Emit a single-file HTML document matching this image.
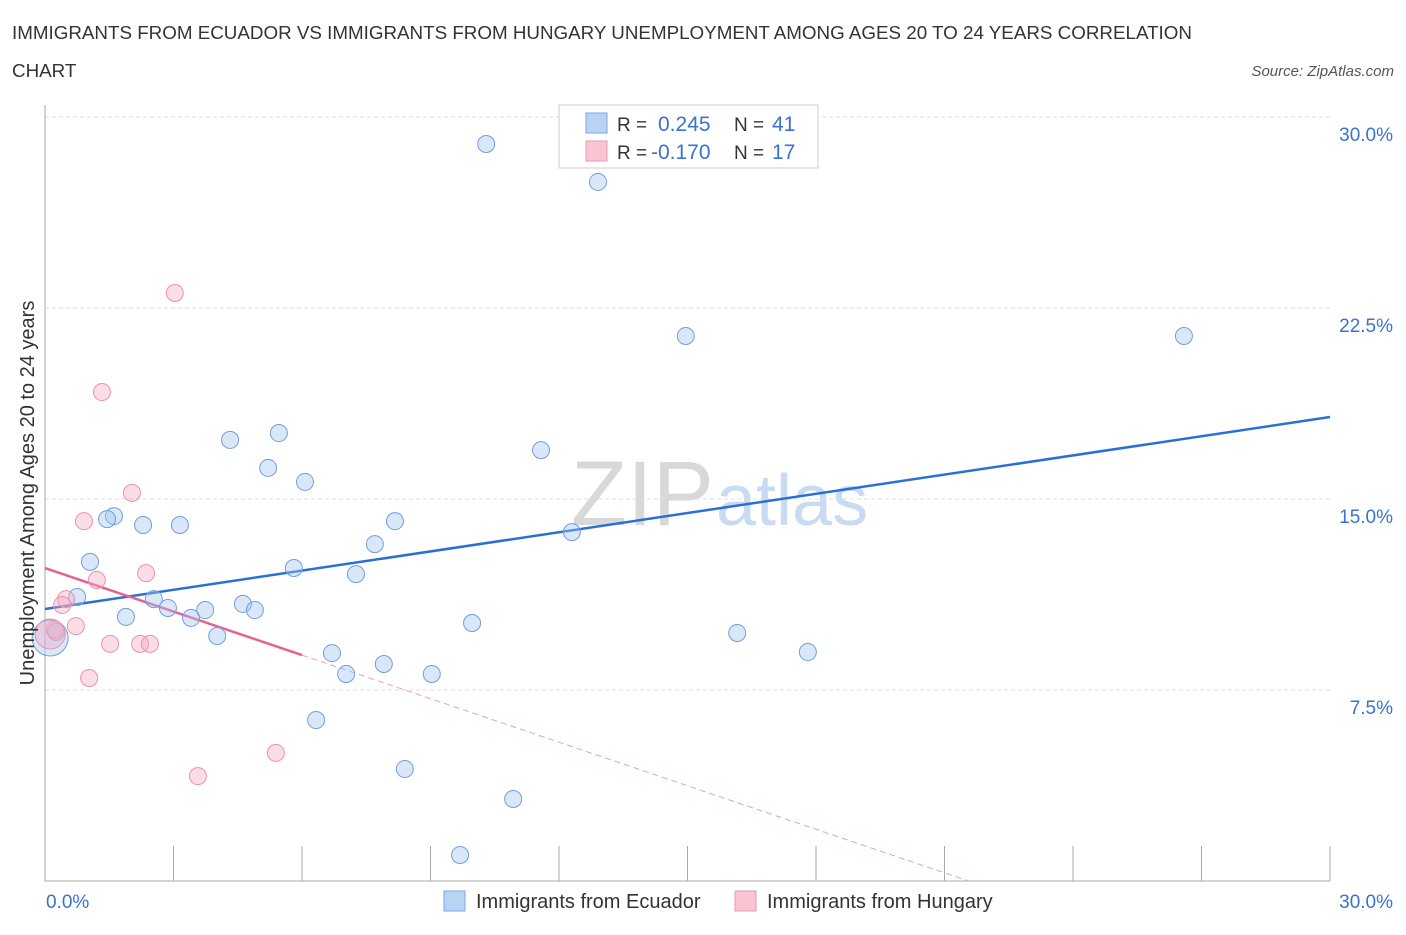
<!DOCTYPE html>
<html><head><meta charset="utf-8"><style>
body{margin:0;background:#fff;font-family:"Liberation Sans",sans-serif;}
svg text{font-family:"Liberation Sans",sans-serif;}
</style></head><body>
<svg id="c" width="1406" height="930" xmlns="http://www.w3.org/2000/svg">
<text x="12" y="39" font-size="18.8" fill="#333">IMMIGRANTS FROM ECUADOR VS IMMIGRANTS FROM HUNGARY UNEMPLOYMENT AMONG AGES 20 TO 24 YEARS CORRELATION</text>
<text x="12" y="77" font-size="18.8" fill="#333">CHART</text>
<text x="1394" y="76" font-size="15" fill="#555" font-style="italic" text-anchor="end">Source: ZipAtlas.com</text>
<text x="714" y="525" font-size="92" fill="#d8d8d8" text-anchor="end" font-family="Liberation Serif">ZIP</text>
<text x="716" y="525" font-size="72" fill="#c9dbf2">atlas</text>
<g id="grid"></g><g id="axes"></g><g id="lines"></g><g id="pts"></g>
<text transform="translate(34,493) rotate(-90)" font-size="20" fill="#333" text-anchor="middle">Unemployment Among Ages 20 to 24 years</text>
<g>
<rect x="559" y="105" width="259" height="63" fill="#fff" stroke="#ccc"/>
<rect x="586" y="113" width="21" height="20" fill="#b9d3f5" stroke="#7aa8e6"/>
<rect x="586" y="141" width="21" height="20" fill="#f9c5d3" stroke="#eb97b2"/>
<text x="617" y="131" font-size="19" fill="#333">R = </text><text x="658" y="131" font-size="21" fill="#3a72d0">0.245</text>
<text x="734" y="131" font-size="19" fill="#333">N = </text><text x="772" y="131" font-size="21" fill="#3a72d0">41</text>
<text x="617" y="159" font-size="19" fill="#333">R = </text><text x="651" y="159" font-size="21" fill="#3a72d0">-0.170</text>
<text x="734" y="159" font-size="19" fill="#333">N = </text><text x="772" y="159" font-size="21" fill="#3a72d0">17</text>
</g>
<g>
<rect x="444" y="891" width="21" height="20" fill="#b9d3f5" stroke="#7aa8e6"/>
<text x="476" y="908" font-size="20" fill="#333">Immigrants from Ecuador</text>
<rect x="735" y="891" width="21" height="20" fill="#f9c5d3" stroke="#eb97b2"/>
<text x="767" y="908" font-size="20" fill="#333">Immigrants from Hungary</text>
</g>
</svg>
<script>
const yTicks=[7.5,15.0,22.5,30.0];
const yTickLabels=["7.5%","15.0%","22.5%","30.0%"];
const blueX=[10.30,12.91,14.96,26.59,5.46,4.32,11.58,5.21,6.07,1.61,1.45,2.29,3.15,8.17,12.30,7.70,1.05,5.81,7.26,0.75,2.54,2.87,4.62,4.90,3.74,3.41,1.89,9.97,4.02,16.16,0.26,0.12,17.81,6.70,7.91,7.03,9.03,6.33,8.40,10.93,9.69];
const blueY=[28.94,27.45,21.40,21.40,17.59,17.32,16.92,16.22,15.67,14.33,14.21,13.98,13.98,14.13,13.70,13.23,12.53,12.29,12.05,11.15,11.07,10.72,10.88,10.64,10.64,10.33,10.37,10.13,9.62,9.74,9.78,9.54,8.99,8.95,8.52,8.13,8.13,6.32,4.40,3.22,1.02];
const blueR=[8.5,8.5,8.5,8.5,8.5,8.5,8.5,8.5,8.5,8.5,8.5,8.5,8.5,8.5,8.5,8.5,8.5,8.5,8.5,8.5,8.5,8.5,8.5,8.5,8.5,8.5,8.5,8.5,8.5,8.5,8.5,18,8.5,8.5,8.5,8.5,8.5,8.5,8.5,8.5,8.5];
const pinkX=[3.03,1.33,2.03,0.91,2.36,1.21,0.49,0.40,0.72,0.23,0.12,1.52,2.22,2.45,1.03,5.39,3.57];
const pinkY=[23.09,19.20,15.24,14.13,12.09,11.82,11.07,10.84,10.01,9.86,9.70,9.31,9.31,9.31,7.97,5.03,4.12];
const pinkR=[8.5,8.5,8.5,8.5,8.5,8.5,8.5,8.5,8.5,8.5,15,8.5,8.5,8.5,8.5,8.5,8.5];
const blueTrend=[10.68,0.2513]; // intercept, slope
const pinkTrend=[12.29,-0.57];
const X=v=>45+v*1285/30, Y=v=>881-v*764/30;
const NS="http://www.w3.org/2000/svg";
function mk(t,a,p){const e=document.createElementNS(NS,t);for(const k in a)e.setAttribute(k,a[k]);document.getElementById(p).appendChild(e);return e;}
yTicks.forEach((t,i)=>{
 const g=mk('line',{x1:45,x2:1330,y1:Y(t),y2:Y(t),stroke:'#ddd','stroke-dasharray':'4,3'},'grid');
 
 
 const l=mk('text',{x:1393,y:Y(t)+24,'font-size':19,fill:'#3a72d0','text-anchor':'end'},'grid');
 l.textContent=yTickLabels[i];
 
 
});
const ax=mk('line',{x1:45,x2:45,y1:105,y2:881,stroke:'#aaa'},'axes');


const bx=mk('line',{x1:45,x2:1330,y1:881,y2:881,stroke:'#aaa'},'axes');


for(let i=0;i<=10;i++){const t=mk('line',{x1:X(i*3),x2:X(i*3),y1:846,y2:881,stroke:'#aaa'},'axes');
 
 }
[[0,'0.0%','start',46],[30,'30.0%','end',1393]].forEach(a=>{const t=mk('text',{x:a[3],y:908,'font-size':19,fill:'#3a72d0','text-anchor':a[2]},'axes');t.textContent=a[1];
 
 });
const bl=mk('line',{x1:X(0),y1:Y(blueTrend[0]),x2:X(30),y2:Y(blueTrend[0]+30*blueTrend[1]),stroke:'#2a6fd6','stroke-width':2.5},'lines');


const pe=6;
const pl=mk('line',{x1:X(0),y1:Y(pinkTrend[0]),x2:X(pe),y2:Y(pinkTrend[0]+pe*pinkTrend[1]),stroke:'#e8608f','stroke-width':2.5},'lines');


const z=-pinkTrend[0]/pinkTrend[1];
const pd=mk('line',{x1:X(pe),y1:Y(pinkTrend[0]+pe*pinkTrend[1]),x2:X(z),y2:Y(0),stroke:'#e8a0b8','stroke-width':1,'stroke-dasharray':'6,4'},'lines');


blueX.forEach((v,i)=>{const c=mk('circle',{cx:X(v),cy:Y(blueY[i]),r:blueR[i],fill:'rgba(160,196,240,0.4)',stroke:'#6f9fe0','stroke-width':1},'pts');
 
 });
pinkX.forEach((v,i)=>{const c=mk('circle',{cx:X(v),cy:Y(pinkY[i]),r:pinkR[i],fill:'rgba(245,170,195,0.4)',stroke:'#eb92b0','stroke-width':1},'pts');
 
 });
</script>
</body></html>
